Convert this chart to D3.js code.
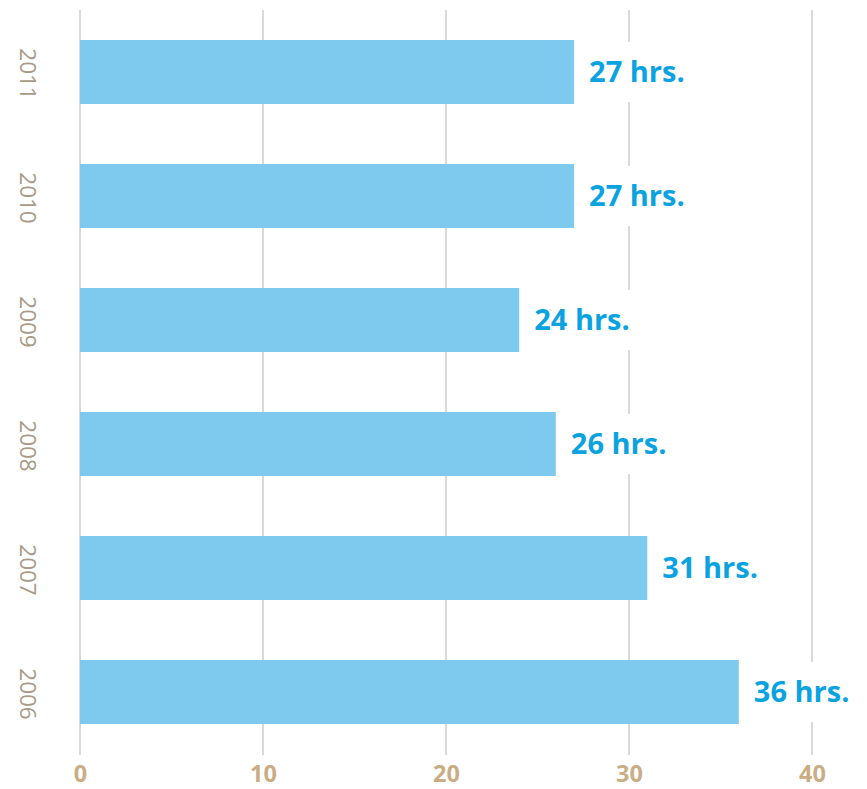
<!DOCTYPE html>
<html>
<head>
<meta charset="utf-8">
<script src="https://cdn.jsdelivr.net/npm/d3@7"></script>
<style>
  html, body { margin: 0; padding: 0; background: #ffffff; }
  svg { display: block; }
</style>
</head>
<body>
<svg id="chart" width="867" height="789"></svg>
<script>
// Average hours per year
const years = ["2011", "2010", "2009", "2008", "2007", "2006"];
const hours = [27, 27, 24, 26, 31, 36];
const tickValues = [0, 10, 20, 30, 40];

const svg = d3.select("#chart");

const x = d3.scaleLinear().domain([0, 40]).range([80, 812]);
const y = d3.scaleBand()
  .domain(years)
  .range([10, 754])
  .paddingInner(0.484)
  .paddingOuter(0.242);

// Vertical gridlines
svg.append("g")
  .selectAll("line")
  .data(tickValues)
  .join("line")
  .attr("x1", d => x(d))
  .attr("x2", d => x(d))
  .attr("y1", 10)
  .attr("y2", 755)
  .attr("stroke", "#d9d9d9")
  .attr("stroke-width", 2);

// Bottom axis labels
const xAxis = d3.axisBottom(x).tickValues(tickValues).tickSize(0).tickPadding(0);
const gx = svg.append("g").attr("transform", "translate(0,765)").call(xAxis);
gx.select(".domain").remove();
gx.selectAll("text")
  .attr("dy", "0.71em")
  .attr("fill", "#c8ad85")
  .style("font-family", "'Open Sans', sans-serif")
  .style("font-weight", "bold")
  .style("font-size", "23.5px");

// Left axis labels, rotated
const gy = svg.append("g");
gy.selectAll("text")
  .data(years)
  .join("text")
  .attr("transform", d => `translate(28,${y(d) + y.bandwidth() / 2 + 2}) rotate(90)`)
  .attr("text-anchor", "middle")
  .attr("dy", "0.35em")
  .attr("fill", "#a89a86")
  .style("font-family", "'Open Sans', sans-serif")
  .style("font-size", "22.5px")
  .text(d => d);

// Bars
const data = years.map((yr, i) => ({ year: yr, value: hours[i] }));
svg.append("g")
  .selectAll("rect")
  .data(data)
  .join("rect")
  .attr("x", x(0))
  .attr("y", d => y(d.year))
  .attr("width", d => x(d.value) - x(0))
  .attr("height", y.bandwidth())
  .attr("fill", "#7ecaef");

// Value labels with white backing
const labels = svg.append("g")
  .selectAll("g")
  .data(data)
  .join("g")
  .attr("transform", d => `translate(${x(d.value) + 15},${y(d.year) + y.bandwidth() / 2})`);

labels.append("text")
  .attr("dy", "0.36em")
  .attr("fill", "#0aa3df")
  .style("font-family", "'Open Sans', sans-serif")
  .style("font-weight", "bold")
  .style("font-size", "29px")
  .text(d => `${d.value} hrs.`);

labels.insert("rect", "text")
  .each(function () {
    const t = d3.select(this.parentNode).select("text").node().getBBox();
    d3.select(this)
      .attr("x", -6)
      .attr("y", -y.bandwidth() / 2 + 2)
      .attr("width", t.width + 12)
      .attr("height", y.bandwidth() - 4)
      .attr("fill", "#ffffff");
  });
</script>
</body>
</html>
